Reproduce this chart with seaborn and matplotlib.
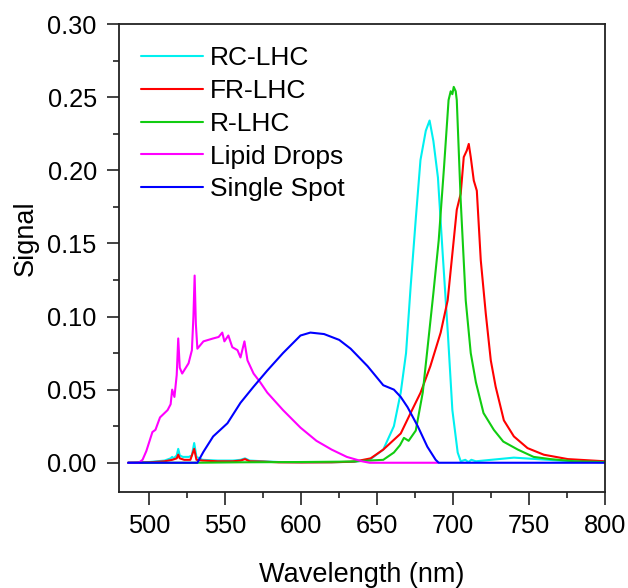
import numpy as np
import pandas as pd
import matplotlib
matplotlib.use("Agg")
import matplotlib.pyplot as plt
from matplotlib.ticker import MultipleLocator
import seaborn as sns

# ---------------- data ----------------
series_names = ["RC-LHC", "FR-LHC", "R-LHC", "Lipid Drops", "Single Spot"]
series_colors = ["#00F0F0", "#FF0000", "#11CC11", "#FF00FF", "#0000FF"]

rc_x = [486, 500, 510, 514, 515, 516, 518, 519, 520, 522, 526, 528, 529.5, 531, 535, 545, 555, 560, 563, 566,
        575, 585, 600, 620, 635, 645, 654, 661, 665.5, 669, 672, 675.5, 678.5, 682, 684.5, 687, 690, 693, 696.5,
        699.5, 703, 705, 708, 710, 712, 715, 725, 740, 755, 770, 785, 800]
rc_y = [0, 0.0005, 0.0015, 0.003, 0.004, 0.003, 0.005, 0.0095, 0.005, 0.004, 0.004, 0.005, 0.0135, 0.004, 0.002,
        0.0015, 0.0015, 0.002, 0.003, 0.0015, 0.001, 0.0005, 0.0003, 0.0003, 0.0007, 0.002, 0.009, 0.025, 0.048,
        0.075, 0.120, 0.168, 0.207, 0.227, 0.234, 0.220, 0.195, 0.145, 0.089, 0.036, 0.007, 0.001, 0.002, 0.0005,
        0.002, 0.001, 0.002, 0.0035, 0.0025, 0.0015, 0.0008, 0.0003]

fr_x = [486, 500, 510, 515, 518, 519, 520, 523, 527, 529.5, 531, 535, 545, 555, 560, 563, 566, 575, 585, 600, 620,
        635, 645.7, 654, 665.5, 672, 678.6, 685, 691.8, 696.4, 699.7, 702.4, 705, 707, 709, 710.3, 711.6, 713.6,
        715.6, 718.2, 721.5, 724.8, 728, 733.4, 740, 749, 759.7, 775.5, 800]
fr_y = [0, 0.0003, 0.001, 0.002, 0.003, 0.0055, 0.003, 0.002, 0.002, 0.0095, 0.002, 0.0015, 0.001, 0.001, 0.0015,
        0.0025, 0.001, 0.0008, 0.0003, 0.0002, 0.0003, 0.0008, 0.003, 0.009, 0.020, 0.034, 0.048, 0.066, 0.089,
        0.111, 0.145, 0.173, 0.184, 0.209, 0.2135, 0.218, 0.209, 0.193, 0.186, 0.1385, 0.102, 0.070, 0.052, 0.029,
        0.018, 0.010, 0.0055, 0.0025, 0.001]

r_x = [486, 530, 560, 600, 632, 645, 654, 661, 665, 667.6, 670.7, 675.4, 680, 683, 687, 690.5, 694, 697, 698.4,
       699.5, 700.4, 701.7, 702.4, 705, 708.3, 711.6, 715, 720, 726.8, 733, 742.6, 753, 764, 780, 800]
r_y = [0, 0, 0.0003, 0.0005, 0.0008, 0.0015, 0.002, 0.007, 0.012, 0.017, 0.015, 0.022, 0.048, 0.077, 0.116, 0.152,
       0.202, 0.248, 0.254, 0.252, 0.257, 0.254, 0.248, 0.179, 0.111, 0.075, 0.055, 0.034, 0.0225, 0.0145, 0.009,
       0.004, 0.0025, 0.001, 0.0005]

lipid_x = [486, 493, 495.5, 498, 502, 504, 507, 512, 514, 515, 516.5, 518, 519, 520, 521.6, 525.8, 528, 529, 529.8,
           530.6, 531.6, 535.6, 542, 545.6, 548, 549.4, 552, 554.6, 558, 560, 562.6, 564.6, 568.6, 573, 577.6, 588,
           599.5, 610, 620, 630, 640, 645, 660, 690]
lipid_y = [0, 0, 0.002, 0.008, 0.021, 0.0225, 0.031, 0.036, 0.040, 0.050, 0.045, 0.060, 0.085, 0.065, 0.061, 0.068,
           0.077, 0.100, 0.128, 0.095, 0.078, 0.083, 0.085, 0.086, 0.089, 0.083, 0.087, 0.079, 0.077, 0.072, 0.083,
           0.070, 0.061, 0.055, 0.048, 0.036, 0.024, 0.015, 0.009, 0.004, 0.001, 0, 0, 0]

spot_x = [486, 531.6, 535.6, 542, 551.4, 560, 568.6, 577.6, 588, 599.5, 606, 615, 625, 632.5, 643.7, 654, 661,
          665.5, 670, 676.7, 683, 688.5, 690.5, 700, 800]
spot_y = [0, 0, 0.0075, 0.018, 0.027, 0.041, 0.052, 0.063, 0.075, 0.087, 0.089, 0.088, 0.084, 0.078, 0.066, 0.053,
          0.050, 0.045, 0.038, 0.025, 0.011, 0.002, 0, 0, 0]

x_ticks = [500, 550, 600, 650, 700, 750, 800]
y_ticks = [0.00, 0.05, 0.10, 0.15, 0.20, 0.25, 0.30]

# ---------------- plot ----------------
sns.set_theme(style="ticks")
plt.rcParams["font.family"] = ["Liberation Sans", "DejaVu Sans"]

fig = plt.figure(figsize=(6.28, 5.88), dpi=100)
ax = fig.add_axes([119 / 628, 1 - 492 / 588, (605 - 119) / 628, (492 - 24) / 588])

all_x = [rc_x, fr_x, r_x, lipid_x, spot_x]
all_y = [rc_y, fr_y, r_y, lipid_y, spot_y]
for name, col, xs, ys in zip(series_names, series_colors, all_x, all_y):
    df = pd.DataFrame({"Wavelength": xs, "Signal": ys})
    sns.lineplot(data=df, x="Wavelength", y="Signal", ax=ax, color=col, lw=1.5,
                 label=name, estimator=None, sort=True)

ax.set_xlim(480, 800)
ax.set_ylim(-0.02, 0.30)
ax.set_xticks(x_ticks)
ax.set_yticks(y_ticks)
ax.set_yticklabels([f"{v:.2f}" for v in y_ticks])
ax.xaxis.set_minor_locator(MultipleLocator(25))
ax.yaxis.set_minor_locator(MultipleLocator(0.025))
ax.tick_params(axis="both", which="major", direction="out", length=9, width=1.2,
               labelsize=18.3, pad=7, colors="#222222", labelcolor="black")
ax.tick_params(axis="both", which="minor", direction="out", length=4.5, width=1.2, colors="#222222")
for sp in ax.spines.values():
    sp.set_linewidth(1.3)
    sp.set_color("#222222")

ax.set_xlabel("Wavelength (nm)", fontsize=19.5, color="black")
ax.set_ylabel("Signal", fontsize=19.5, color="black")
ax.xaxis.set_label_coords(0.5, -0.15)
ax.yaxis.set_label_coords(-0.165, 0.543)

leg = ax.legend(loc="upper left", bbox_to_anchor=(0.045, 0.952), frameon=False,
                fontsize=19, handlelength=2.35, handletextpad=0.27, labelspacing=0.33,
                borderpad=0, borderaxespad=0)
for t in leg.get_texts():
    t.set_color("black")

fig.savefig("out.png", dpi=100)
